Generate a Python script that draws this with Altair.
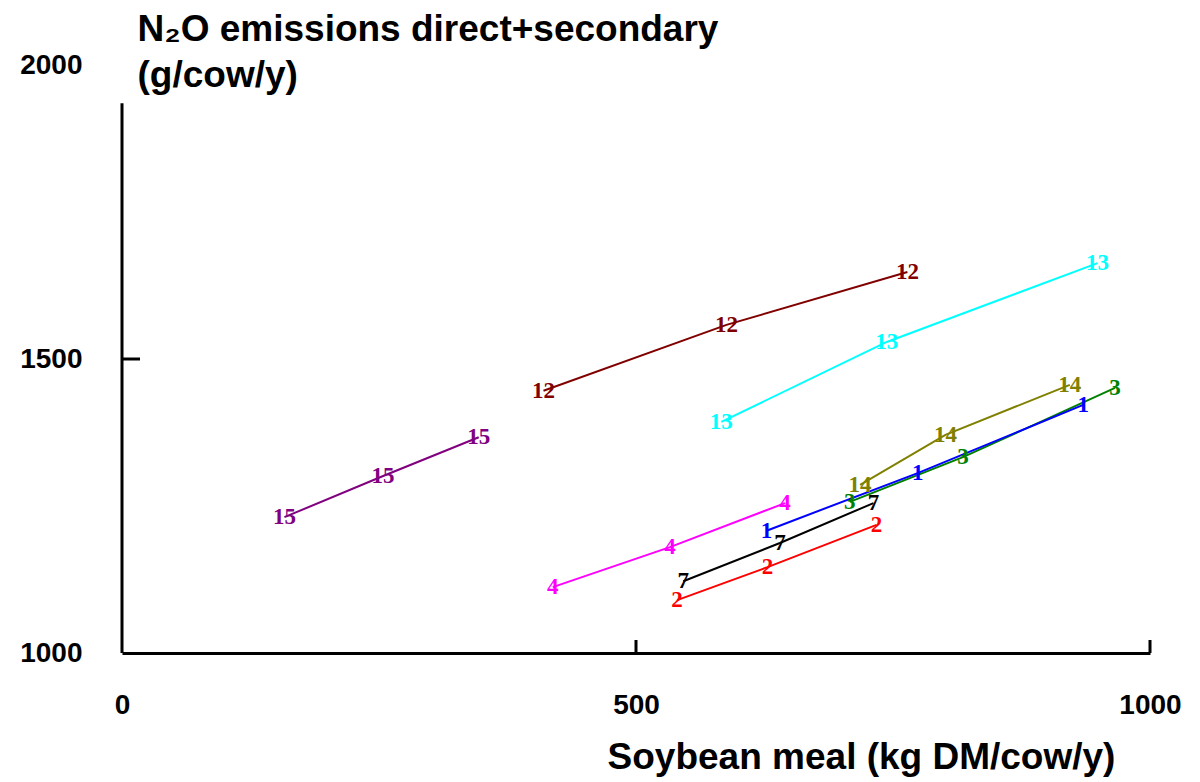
import altair as alt
import pandas as pd

# Series ids (line labels) and colours
series_ids = ["15", "12", "13", "14", "3", "1", "4", "7", "2"]
series_colors = ["#800080", "#800000", "#00FFFF", "#808000", "#008000",
                 "#0000FF", "#FF00FF", "#000000", "#FF0000"]

# Soybean meal (kg DM/cow/y) and N2O (g/cow/y) per series, 3 points each
soy_15 = [158, 254, 347]
n2o_15 = [1231, 1301, 1367]
soy_12 = [410, 588, 764]
n2o_12 = [1446, 1558, 1648]
soy_13 = [583, 744, 949]
n2o_13 = [1393, 1529, 1663]
soy_14 = [718, 801, 922]
n2o_14 = [1286, 1371, 1456]
soy_3 = [708, 818, 966]
n2o_3 = [1257, 1333, 1451]
soy_1 = [627, 774, 935]
n2o_1 = [1208, 1306, 1422]
soy_4 = [419, 533, 645]
n2o_4 = [1112, 1180, 1255]
soy_7 = [546, 640, 731]
n2o_7 = [1122, 1187, 1255]
soy_2 = [540, 628, 734]
n2o_2 = [1090, 1146, 1218]

x_tick_values = [0, 500, 1000]
y_tick_values = [1000, 1500, 2000]
x_inner_ticks = [500, 1000]
y_inner_ticks = [1500]

soy_by_series = {"15": soy_15, "12": soy_12, "13": soy_13, "14": soy_14, "3": soy_3,
                 "1": soy_1, "4": soy_4, "7": soy_7, "2": soy_2}
n2o_by_series = {"15": n2o_15, "12": n2o_12, "13": n2o_13, "14": n2o_14, "3": n2o_3,
                 "1": n2o_1, "4": n2o_4, "7": n2o_7, "2": n2o_2}

rows = []
for s in series_ids:
    for i, (xv, yv) in enumerate(zip(soy_by_series[s], n2o_by_series[s])):
        rows.append({"series": s, "idx": i, "soy": xv, "n2o": yv})
df = pd.DataFrame(rows)

xscale = alt.Scale(domain=[0, 1000], nice=False, zero=False)
yscale = alt.Scale(domain=[1000, 2000], nice=False, zero=False)
cscale = alt.Scale(domain=series_ids, range=series_colors)

X_TITLE = "Soybean meal (kg DM/cow/y)"
Y_TITLE = ["N\u2082O emissions direct+secondary", "(g/cow/y)"]

x_axis = alt.Axis(
    values=x_tick_values, format="d", ticks=False, tickSize=0, grid=False,
    domainColor="black", domainWidth=3,
    labelFont="Liberation Sans", labelFontWeight="bold", labelFontSize=28,
    labelColor="black", labelPadding=38, labelFlush=False, labelOverlap=False,
    title=X_TITLE, titleFont="Liberation Sans",
    titleFontSize=37, titleFontWeight="bold", titleColor="black",
    titleX=739, titleY=115, titleAlign="center", titleBaseline="alphabetic",
)
y_axis = alt.Axis(
    values=y_tick_values, format="d", ticks=False, tickSize=0, grid=False, domain=False,
    labelFont="Liberation Sans", labelFontWeight="bold", labelFontSize=28,
    labelColor="black", labelPadding=40, labelFlush=False, labelOverlap=False,
    title=Y_TITLE,
    titleFont="Liberation Sans", titleFontSize=37, titleFontWeight="bold",
    titleColor="black", titleAngle=0, titleX=15, titleY=-25,
    titleAlign="left", titleBaseline="alphabetic", titleLineHeight=46,
)

base = alt.Chart(df)

lines = base.mark_line(strokeWidth=2).encode(
    x=alt.X("soy:Q", scale=xscale, axis=x_axis, title=X_TITLE),
    y=alt.Y("n2o:Q", scale=yscale, axis=y_axis, title=Y_TITLE),
    color=alt.Color("series:N", scale=cscale, legend=None),
    detail="series:N",
    order="idx:Q",
)

labels = base.mark_text(font="Liberation Serif", fontWeight="bold", fontSize=23,
                        align="center", baseline="middle").encode(
    x=alt.X("soy:Q", scale=xscale, axis=x_axis, title=X_TITLE),
    y=alt.Y("n2o:Q", scale=yscale, axis=y_axis, title=Y_TITLE),
    text="series:N",
    color=alt.Color("series:N", scale=cscale, legend=None),
)

y_line = alt.Chart(pd.DataFrame({"soy": [0], "n2o": [1000], "yb": [1935]})).mark_rule(
    color="black", strokeWidth=3).encode(
    x=alt.X("soy:Q", scale=xscale, axis=x_axis, title=X_TITLE),
    y=alt.Y("n2o:Q", scale=yscale, axis=y_axis, title=Y_TITLE),
    y2="yb:Q",
)

x_ticks = alt.Chart(pd.DataFrame({"soy": x_inner_ticks, "n2o": [1000] * len(x_inner_ticks)})).mark_rule(
    color="black", strokeWidth=3, y2Offset=-13).encode(
    x=alt.X("soy:Q", scale=xscale, axis=x_axis, title=X_TITLE),
    y=alt.Y("n2o:Q", scale=yscale, axis=y_axis, title=Y_TITLE),
    y2="n2o:Q",
)

y_ticks = alt.Chart(pd.DataFrame({"n2o": y_inner_ticks, "soy": [0] * len(y_inner_ticks)})).mark_rule(
    color="black", strokeWidth=3, x2Offset=18).encode(
    y=alt.Y("n2o:Q", scale=yscale, axis=y_axis, title=Y_TITLE),
    x=alt.X("soy:Q", scale=xscale, axis=x_axis, title=X_TITLE),
    x2="soy:Q",
)

chart = alt.layer(lines, labels, y_line, x_ticks, y_ticks).properties(
    width=1028, height=588,
    padding={"left": 114, "top": 57, "right": 42, "bottom": 128},
    autosize=alt.AutoSizeParams(type="none"),
    background="white",
).configure_view(stroke=None)

chart.save("out.html", embed_options={"renderer": "svg", "actions": False})
